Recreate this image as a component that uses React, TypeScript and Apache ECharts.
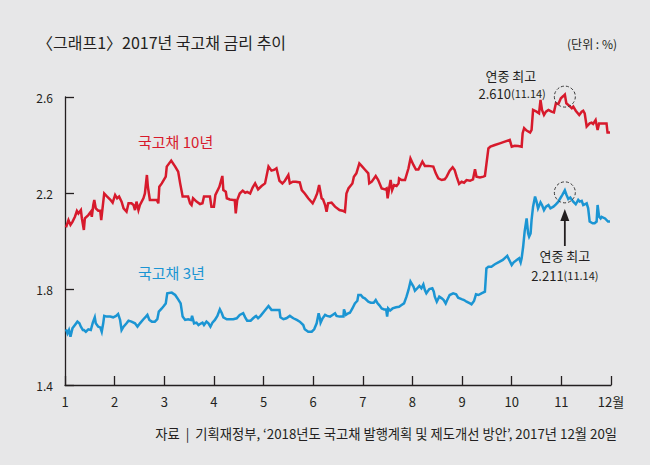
import React, { useEffect, useRef } from "react";
import * as echarts from "echarts";

const monthTicks = [1, 2, 3, 4, 5, 6, 7, 8, 9, 10, 11, 12];
const rateTicks = [1.4, 1.8, 2.2, 2.6];

// 국고채 10년 (month position, %)
const rate10y: number[][] = [
  [1.02, 2.057], [1.07, 2.087], [1.11, 2.067], [1.15, 2.08], [1.2, 2.101], [1.24, 2.125], [1.27, 2.115], [1.32, 2.129],
  [1.34, 2.094], [1.38, 2.046], [1.4, 2.094], [1.47, 2.108], [1.52, 2.122], [1.54, 2.101], [1.57, 2.15], [1.59, 2.171],
  [1.62, 2.136], [1.67, 2.126], [1.71, 2.126], [1.73, 2.087], [1.76, 2.143], [1.79, 2.198], [1.84, 2.187], [1.91, 2.173],
  [1.96, 2.16], [2.01, 2.192], [2.05, 2.178], [2.09, 2.185], [2.14, 2.164], [2.18, 2.136], [2.24, 2.122], [2.28, 2.157],
  [2.34, 2.157], [2.38, 2.15], [2.41, 2.129], [2.44, 2.164], [2.48, 2.129], [2.51, 2.15], [2.58, 2.178], [2.61, 2.198],
  [2.65, 2.275], [2.67, 2.226], [2.71, 2.171], [2.78, 2.171], [2.85, 2.171], [2.88, 2.157], [2.9, 2.226], [2.95, 2.24],
  [3.03, 2.268], [3.05, 2.31], [3.14, 2.335], [3.22, 2.31], [3.28, 2.289], [3.32, 2.24], [3.37, 2.185], [3.45, 2.185],
  [3.48, 2.185], [3.52, 2.157], [3.55, 2.15], [3.58, 2.178], [3.65, 2.164], [3.72, 2.154], [3.77, 2.157], [3.8, 2.185],
  [3.85, 2.185], [3.92, 2.185], [3.95, 2.143], [4.0, 2.143], [4.03, 2.192], [4.11, 2.226], [4.17, 2.271], [4.19, 2.212],
  [4.24, 2.205], [4.26, 2.178], [4.32, 2.173], [4.39, 2.171], [4.42, 2.171], [4.44, 2.115], [4.47, 2.171], [4.52, 2.198],
  [4.58, 2.21], [4.63, 2.201], [4.67, 2.205], [4.73, 2.198], [4.78, 2.223], [4.83, 2.24], [4.89, 2.215], [4.96, 2.229],
  [5.03, 2.24], [5.1, 2.31], [5.16, 2.293], [5.21, 2.296], [5.26, 2.303], [5.32, 2.251], [5.38, 2.24], [5.43, 2.251],
  [5.5, 2.275], [5.53, 2.24], [5.59, 2.247], [5.65, 2.247], [5.73, 2.244], [5.77, 2.212], [5.83, 2.198], [5.9, 2.178],
  [5.99, 2.157], [6.04, 2.178], [6.08, 2.198], [6.12, 2.233], [6.17, 2.178], [6.2, 2.173], [6.24, 2.15], [6.27, 2.122],
  [6.3, 2.157], [6.37, 2.16], [6.44, 2.143], [6.53, 2.129], [6.61, 2.125], [6.64, 2.122], [6.67, 2.198], [6.71, 2.219],
  [6.79, 2.24], [6.82, 2.268], [6.87, 2.282], [6.93, 2.323], [6.98, 2.312], [7.04, 2.298], [7.11, 2.282], [7.13, 2.24],
  [7.18, 2.247], [7.26, 2.271], [7.31, 2.254], [7.38, 2.219], [7.45, 2.215], [7.48, 2.219], [7.5, 2.178], [7.53, 2.219],
  [7.56, 2.254], [7.59, 2.212], [7.63, 2.233], [7.68, 2.229], [7.72, 2.24], [7.73, 2.261], [7.78, 2.254], [7.85, 2.254],
  [7.92, 2.303], [7.96, 2.344], [8.02, 2.317], [8.07, 2.298], [8.12, 2.298], [8.2, 2.331], [8.25, 2.313], [8.32, 2.313],
  [8.42, 2.31], [8.47, 2.282], [8.52, 2.261], [8.59, 2.254], [8.65, 2.257], [8.69, 2.268], [8.75, 2.293], [8.81, 2.307],
  [8.85, 2.296], [8.89, 2.268], [8.94, 2.238], [8.99, 2.247], [9.04, 2.243], [9.09, 2.254], [9.16, 2.251], [9.22, 2.257],
  [9.26, 2.299], [9.29, 2.268], [9.36, 2.265], [9.43, 2.268], [9.46, 2.271], [9.53, 2.386], [9.57, 2.393], [9.66, 2.4],
  [9.76, 2.407], [9.86, 2.414], [9.96, 2.421], [10.0, 2.393], [10.06, 2.397], [10.13, 2.396], [10.2, 2.393], [10.22, 2.449],
  [10.25, 2.47], [10.3, 2.46], [10.37, 2.452], [10.4, 2.463], [10.43, 2.546], [10.5, 2.539], [10.55, 2.532], [10.58, 2.588],
  [10.61, 2.546], [10.65, 2.525], [10.69, 2.539], [10.74, 2.546], [10.8, 2.539], [10.85, 2.536], [10.89, 2.574], [10.94, 2.571],
  [10.99, 2.595], [11.04, 2.604], [11.07, 2.61], [11.1, 2.574], [11.16, 2.563], [11.21, 2.553], [11.24, 2.56], [11.29, 2.543],
  [11.36, 2.525], [11.41, 2.539], [11.44, 2.543], [11.47, 2.532], [11.51, 2.477], [11.57, 2.49], [11.61, 2.493], [11.64, 2.488],
  [11.69, 2.504], [11.73, 2.463], [11.76, 2.49], [11.81, 2.49], [11.88, 2.49], [11.91, 2.49], [11.93, 2.452], [11.98, 2.452],
];

// 국고채 3년 (month position, %)
const rate3y: number[][] = [
  [1.02, 1.632], [1.05, 1.615], [1.08, 1.629], [1.11, 1.601], [1.15, 1.636], [1.2, 1.65], [1.25, 1.664], [1.29, 1.657],
  [1.32, 1.643], [1.36, 1.629], [1.38, 1.629], [1.42, 1.622], [1.47, 1.632], [1.52, 1.629], [1.56, 1.66], [1.58, 1.671],
  [1.6, 1.682], [1.62, 1.657], [1.67, 1.643], [1.71, 1.64], [1.74, 1.622], [1.77, 1.657], [1.79, 1.688], [1.84, 1.685],
  [1.91, 1.685], [1.97, 1.682], [2.03, 1.688], [2.07, 1.696], [2.11, 1.671], [2.14, 1.629], [2.18, 1.643], [2.24, 1.657],
  [2.28, 1.668], [2.34, 1.664], [2.41, 1.657], [2.46, 1.643], [2.51, 1.657], [2.58, 1.674], [2.63, 1.685], [2.66, 1.692],
  [2.7, 1.671], [2.75, 1.664], [2.81, 1.664], [2.86, 1.674], [2.89, 1.706], [2.95, 1.719], [2.99, 1.729], [3.03, 1.74],
  [3.06, 1.782], [3.15, 1.785], [3.22, 1.775], [3.28, 1.757], [3.33, 1.74], [3.37, 1.685], [3.42, 1.671], [3.48, 1.674],
  [3.54, 1.671], [3.56, 1.688], [3.6, 1.657], [3.65, 1.66], [3.69, 1.65], [3.72, 1.654], [3.77, 1.66], [3.8, 1.65],
  [3.85, 1.664], [3.89, 1.657], [3.93, 1.643], [3.97, 1.66], [4.02, 1.671], [4.07, 1.688], [4.12, 1.715], [4.16, 1.699],
  [4.19, 1.682], [4.26, 1.674], [4.32, 1.674], [4.39, 1.674], [4.46, 1.678], [4.52, 1.692], [4.59, 1.699], [4.63, 1.682],
  [4.67, 1.668], [4.74, 1.668], [4.79, 1.678], [4.85, 1.688], [4.89, 1.678], [4.94, 1.688], [5.01, 1.706], [5.1, 1.729],
  [5.16, 1.713], [5.23, 1.713], [5.32, 1.713], [5.34, 1.682], [5.4, 1.674], [5.46, 1.678], [5.53, 1.688], [5.6, 1.678],
  [5.67, 1.671], [5.73, 1.664], [5.8, 1.65], [5.83, 1.632], [5.9, 1.622], [5.97, 1.622], [6.02, 1.632], [6.07, 1.657],
  [6.11, 1.699], [6.14, 1.674], [6.15, 1.66], [6.19, 1.678], [6.24, 1.692], [6.28, 1.688], [6.34, 1.685], [6.39, 1.692],
  [6.44, 1.699], [6.47, 1.688], [6.53, 1.685], [6.61, 1.685], [6.62, 1.715], [6.66, 1.692], [6.71, 1.699], [6.74, 1.701],
  [6.79, 1.719], [6.84, 1.74], [6.89, 1.751], [6.91, 1.775], [6.96, 1.775], [7.0, 1.765], [7.04, 1.761], [7.11, 1.747],
  [7.16, 1.743], [7.22, 1.743], [7.26, 1.754], [7.29, 1.743], [7.33, 1.733], [7.38, 1.719], [7.43, 1.715], [7.47, 1.715],
  [7.49, 1.685], [7.51, 1.719], [7.55, 1.71], [7.6, 1.719], [7.67, 1.724], [7.73, 1.726], [7.78, 1.733], [7.83, 1.74],
  [7.88, 1.768], [7.92, 1.796], [7.96, 1.831], [8.02, 1.81], [8.05, 1.793], [8.08, 1.799], [8.14, 1.813], [8.18, 1.803],
  [8.22, 1.819], [8.25, 1.796], [8.28, 1.782], [8.34, 1.8], [8.4, 1.803], [8.43, 1.789], [8.45, 1.768], [8.49, 1.747],
  [8.54, 1.768], [8.59, 1.761], [8.63, 1.754], [8.67, 1.74], [8.7, 1.754], [8.75, 1.775], [8.82, 1.782], [8.88, 1.778],
  [8.92, 1.764], [8.99, 1.758], [9.04, 1.754], [9.09, 1.747], [9.16, 1.74], [9.19, 1.736], [9.24, 1.75], [9.28, 1.778],
  [9.33, 1.775], [9.39, 1.782], [9.46, 1.789], [9.49, 1.886], [9.53, 1.893], [9.59, 1.893], [9.66, 1.903], [9.73, 1.911],
  [9.82, 1.921], [9.91, 1.938], [9.95, 1.921], [10.0, 1.9], [10.04, 1.911], [10.1, 1.921], [10.15, 1.928], [10.18, 1.911],
  [10.2, 1.928], [10.23, 1.976], [10.26, 2.039], [10.3, 2.094], [10.33, 2.032], [10.35, 2.018], [10.38, 2.032], [10.4, 2.088],
  [10.43, 2.143], [10.47, 2.185], [10.5, 2.164], [10.53, 2.136], [10.58, 2.161], [10.61, 2.15], [10.65, 2.129], [10.69, 2.143],
  [10.74, 2.15], [10.78, 2.136], [10.84, 2.143], [10.89, 2.153], [10.94, 2.164], [10.97, 2.175], [11.02, 2.192], [11.07, 2.211],
  [11.1, 2.194], [11.14, 2.175], [11.18, 2.181], [11.24, 2.164], [11.29, 2.153], [11.34, 2.171], [11.37, 2.164], [11.41, 2.167],
  [11.44, 2.15], [11.47, 2.153], [11.51, 2.157], [11.54, 2.136], [11.57, 2.081], [11.63, 2.074], [11.67, 2.074], [11.71, 2.081],
  [11.73, 2.15], [11.76, 2.101], [11.79, 2.094], [11.81, 2.101], [11.88, 2.094], [11.94, 2.081], [11.98, 2.081],
];

const peak10y = [11.07, 2.61];
const peak3y = [11.07, 2.211];

const BG = "#e7e7e8";
const RED = "#d71a2c";
const BLUE = "#1b95d3";
const INK = "#231f20";
const FONT = '"Noto Sans CJK KR", "Noto Sans", sans-serif';

export default function App() {
  const ref = useRef<HTMLDivElement>(null);

  useEffect(() => {
    document.body.style.margin = "0";
    document.body.style.background = BG;
    const chart = echarts.init(ref.current as HTMLDivElement, null, { renderer: "svg" });
    chart.setOption({
      animation: false,
      backgroundColor: BG,
      grid: { left: 65, right: 39, top: 97, bottom: 80, containLabel: false },
      xAxis: {
        type: "value",
        min: 1,
        max: 12,
        interval: 1,
        splitLine: { show: false },
        axisLine: { show: true, onZero: false, lineStyle: { color: INK, width: 1.3 } },
        axisTick: { show: true, inside: true, length: 9, lineStyle: { color: INK, width: 1.3 }, customValues: monthTicks },
        axisLabel: {
          color: INK,
          fontFamily: FONT,
          fontSize: 13,
          margin: 10,
          customValues: monthTicks,
          formatter: (v: number) => (v === 12 ? "12월" : String(v)),
        },
      },
      yAxis: {
        type: "value",
        min: 1.4,
        max: 2.6,
        splitLine: { show: false },
        axisLine: { show: true, lineStyle: { color: INK, width: 1.3 } },
        axisTick: { show: true, inside: true, length: 9, lineStyle: { color: INK, width: 1.3 }, customValues: rateTicks },
        axisLabel: {
          color: INK,
          fontFamily: FONT,
          fontSize: 12,
          margin: 12,
          customValues: rateTicks,
          formatter: (v: number) => v.toFixed(1),
        },
      },
      series: [
        {
          type: "line",
          data: rate10y,
          showSymbol: false,
          clip: false,
          lineStyle: { color: RED, width: 2.5, join: "miter" },
          itemStyle: { color: RED },
          z: 3,
        },
        {
          type: "line",
          data: rate3y,
          showSymbol: false,
          clip: false,
          lineStyle: { color: BLUE, width: 2.5, join: "miter" },
          itemStyle: { color: BLUE },
          z: 3,
        },
      ],
    });

    const p10 = chart.convertToPixel({ seriesIndex: 0 }, peak10y) as number[];
    const p3 = chart.convertToPixel({ seriesIndex: 1 }, peak3y) as number[];
    const circleStyle = { fill: "none", stroke: "#3a3a3a", lineWidth: 1, lineDash: [3, 2] };
    const ax = p3[0];

    chart.setOption({
      graphic: [
        {
          type: "text",
          x: 37,
          y: 42,
          style: { text: "〈그래프1〉2017년 국고채 금리 추이", font: `16px ${FONT}`, fill: INK, textVerticalAlign: "middle" },
        },
        {
          type: "text",
          x: 617,
          y: 43,
          style: { text: "(단위 : %)", font: `12px ${FONT}`, fill: INK, textAlign: "right", textVerticalAlign: "middle" },
        },
        {
          type: "text",
          x: 138,
          y: 141,
          style: { text: "국고채 10년", font: `15px ${FONT}`, fill: RED, textVerticalAlign: "middle" },
        },
        {
          type: "text",
          x: 138,
          y: 272,
          style: { text: "국고채 3년", font: `15px ${FONT}`, fill: BLUE, textVerticalAlign: "middle" },
        },
        { type: "circle", shape: { cx: p10[0], cy: p10[1] + 2, r: 10.5 }, style: circleStyle, z: 10 },
        { type: "circle", shape: { cx: p3[0], cy: p3[1] + 2, r: 10.5 }, style: circleStyle, z: 10 },
        {
          type: "text",
          x: p10[0] - 54,
          y: 75,
          style: { text: "연중 최고", font: `13px ${FONT}`, fill: INK, textAlign: "center", textVerticalAlign: "middle" },
        },
        {
          type: "text",
          x: p10[0] - 19,
          y: 93,
          style: {
            text: "{a|2.610}{b|(11.14)}",
            textAlign: "right",
            textVerticalAlign: "middle",
            rich: {
              a: { fontFamily: FONT, fontSize: 13, fill: INK, color: INK },
              b: { fontFamily: FONT, fontSize: 11, fill: INK, color: INK },
            },
          },
        },
        {
          type: "line",
          shape: { x1: ax, y1: 246, x2: ax, y2: 218 },
          style: { stroke: INK, lineWidth: 1.8 },
        },
        {
          type: "polygon",
          shape: { points: [[ax, 209], [ax - 4.5, 221], [ax + 4.5, 221]] },
          style: { fill: INK },
        },
        {
          type: "text",
          x: ax,
          y: 255,
          style: { text: "연중 최고", font: `13px ${FONT}`, fill: INK, textAlign: "center", textVerticalAlign: "middle" },
        },
        {
          type: "text",
          x: ax,
          y: 275,
          style: {
            text: "{a|2.211}{b|(11.14)}",
            textAlign: "center",
            textVerticalAlign: "middle",
            rich: {
              a: { fontFamily: FONT, fontSize: 13, fill: INK, color: INK },
              b: { fontFamily: FONT, fontSize: 11, fill: INK, color: INK },
            },
          },
        },
        {
          type: "text",
          x: 617,
          y: 433,
          style: {
            text: "자료  |  기획재정부, ‘2018년도 국고채 발행계획 및 제도개선 방안’, 2017년 12월 20일",
            font: `13.3px ${FONT}`,
            fill: INK,
            textAlign: "right",
            textVerticalAlign: "middle",
          },
        },
      ],
    });

    return () => chart.dispose();
  }, []);

  return <div ref={ref} style={{ width: 650, height: 465, background: BG }} />;
}
